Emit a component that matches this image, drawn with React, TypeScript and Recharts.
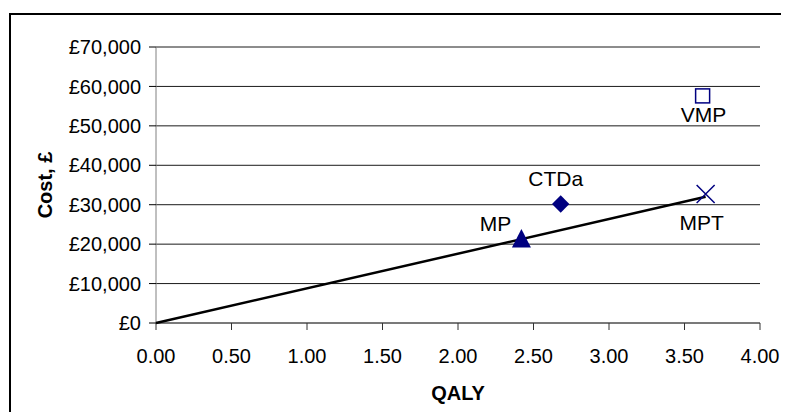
import { ScatterChart, Scatter, XAxis, YAxis, CartesianGrid } from "recharts";

const strategies = ["MP", "CTDa", "VMP", "MPT"];
const qalys = [2.42, 2.68, 3.62, 3.64];
const costs = [21500, 30200, 57600, 32700];

const frontierQaly = [0, 3.64];
const frontierCost = [0, 32000];

const xTicks = [0, 0.5, 1, 1.5, 2, 2.5, 3, 3.5, 4];
const yTicks = [0, 10000, 20000, 30000, 40000, 50000, 60000, 70000];

const NAVY = "#000080";
const FONT = "'Liberation Sans', Arial, sans-serif";

const points = strategies.map((name, i) => ({ name, qaly: qalys[i], cost: costs[i] }));
const frontier = frontierQaly.map((q, i) => ({ qaly: q, cost: frontierCost[i] }));

// marker + label placement per strategy
const labelOffset: Record<string, [number, number]> = {
  MP: [-26, -7],
  CTDa: [-5, -18],
  VMP: [1, 26],
  MPT: [-4, 36],
};

const Marker = (props: any) => {
  const { cx, cy, payload } = props;
  const name = payload.name;
  let mark = null;
  if (name === "MP") {
    mark = (
      <polygon
        points={`${cx},${cy - 9.2} ${cx - 9.5},${cy + 9.2} ${cx + 9.5},${cy + 9.2}`}
        fill={NAVY}
      />
    );
  } else if (name === "CTDa") {
    mark = (
      <polygon
        points={`${cx},${cy - 8.8} ${cx + 8.7},${cy} ${cx},${cy + 8.8} ${cx - 8.7},${cy}`}
        fill={NAVY}
      />
    );
  } else if (name === "VMP") {
    mark = <rect x={cx - 7} y={cy - 7} width={14} height={14} fill="#fff" stroke={NAVY} strokeWidth={1.5} />;
  } else {
    mark = (
      <path
        d={`M${cx - 9},${cy - 9}L${cx + 9},${cy + 9}M${cx + 9},${cy - 9}L${cx - 9},${cy + 9}`}
        stroke={NAVY}
        strokeWidth={1.5}
        fill="none"
      />
    );
  }
  const [dx, dy] = labelOffset[name];
  return (
    <g>
      {mark}
      <text x={cx + dx} y={cy + dy} textAnchor="middle" fontSize={21} fontFamily={FONT} fill="#000">
        {name}
      </text>
    </g>
  );
};

const XTick = (props: any) => {
  const { x, y, payload } = props;
  return (
    <text x={x} y={y} dy="0.71em" textAnchor="middle" fontSize={20} fontFamily={FONT} fill="#000">
      {payload.value.toFixed(2)}
    </text>
  );
};

const YTick = (props: any) => {
  const { x, y, payload } = props;
  return (
    <text x={x} y={y} dy="0.355em" textAnchor="end" fontSize={20} fontFamily={FONT} fill="#000">
      {"£" + payload.value.toLocaleString("en-GB")}
    </text>
  );
};

export default function App() {
  return (
    <div style={{ position: "relative", width: 773, height: 404, overflow: "hidden", background: "#fff" }}>
      <div
        style={{
          position: "absolute",
          left: 1,
          top: 5,
          width: 900,
          height: 600,
          border: "2px solid #000",
        }}
      />
      <div style={{ position: "absolute", left: 0, top: 0 }}>
        <ScatterChart width={773} height={404} margin={{ top: 39, right: 21, bottom: 0, left: 0 }}>
          <CartesianGrid vertical={false} stroke="#1a1a1a" strokeWidth={1} />
          <XAxis
            type="number"
            dataKey="qaly"
            domain={[0, 4]}
            ticks={xTicks}
            interval={0}
            height={89}
            tickSize={7}
            tickMargin={19}
            axisLine={{ stroke: "#666" }}
            tickLine={{ stroke: "#333" }}
            tick={<XTick />}
            label={{
              content: (p: any) => {
                const vb = p.viewBox;
                return (
                  <text
                    x={vb.x + vb.width / 2}
                    y={vb.y + 77}
                    textAnchor="middle"
                    fontSize={20}
                    fontWeight="bold"
                    fontFamily={FONT}
                    fill="#000"
                  >
                    QALY
                  </text>
                );
              },
            }}
          />
          <YAxis
            type="number"
            dataKey="cost"
            domain={[0, 70000]}
            ticks={yTicks}
            interval={0}
            width={148}
            tickSize={7}
            tickMargin={8}
            axisLine={{ stroke: "#808080" }}
            tickLine={{ stroke: "#000" }}
            tick={<YTick />}
            label={{
              content: (p: any) => {
                const vb = p.viewBox;
                const lx = 44;
                const ly = vb.y + vb.height / 2;
                return (
                  <text
                    x={lx}
                    y={ly}
                    transform={`rotate(-90, ${lx}, ${ly})`}
                    textAnchor="middle"
                    fontSize={20}
                    fontWeight="bold"
                    fontFamily={FONT}
                    fill="#000"
                  >
                    Cost, £
                  </text>
                );
              },
            }}
          />
          <Scatter
            data={frontier}
            line={{ stroke: "#000", strokeWidth: 2.5 }}
            shape={() => <g />}
            isAnimationActive={false}
          />
          <Scatter data={points} shape={<Marker />} isAnimationActive={false} />
        </ScatterChart>
      </div>
    </div>
  );
}
